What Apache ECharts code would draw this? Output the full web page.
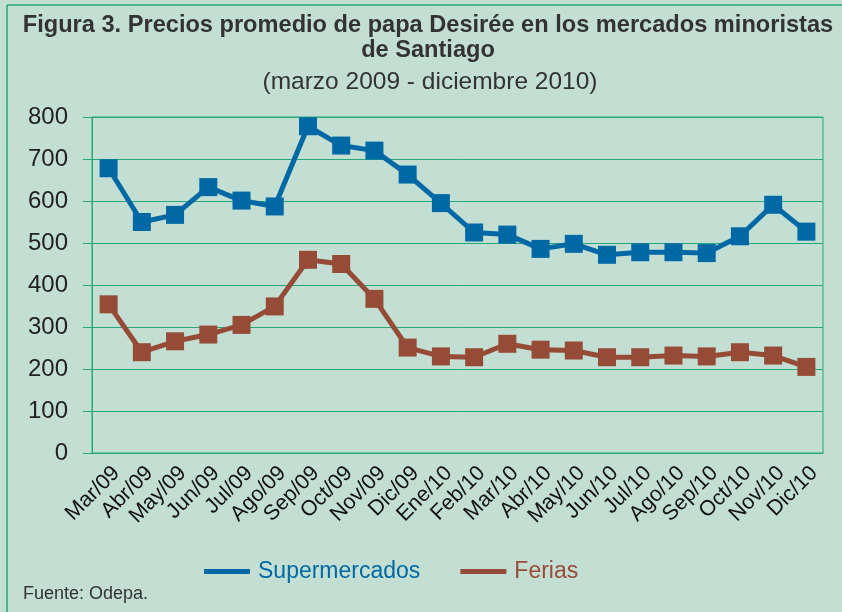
<!DOCTYPE html>
<html>
<head>
<meta charset="utf-8">
<script src="https://cdn.jsdelivr.net/npm/echarts@6/dist/echarts.min.js"></script>
<style>
html,body{margin:0;padding:0;background:#c3dfd3;}
#c{width:842px;height:612px;}
</style>
</head>
<body>
<div id="c"></div>
<script>
const categories = ['Mar/09','Abr/09','May/09','Jun/09','Jul/09','Ago/09','Sep/09','Oct/09','Nov/09','Dic/09','Ene/10','Feb/10','Mar/10','Abr/10','May/10','Jun/10','Jul/10','Ago/10','Sep/10','Oct/10','Nov/10','Dic/10'];
const supermercados = [678,550,567,633,601,587,778,732,720,663,595,525,520,486,498,472,478,478,476,516,591,527];
const ferias = [354,240,266,282,305,349,460,450,367,251,230,228,260,246,244,228,228,232,230,240,232,205];
const yTicks = [0,100,200,300,400,500,600,700,800];

const green = '#27a878';
const font = 'Liberation Sans, Arial, sans-serif';
const chart = echarts.init(document.getElementById('c'));
chart.setOption({
  backgroundColor: '#c3dfd3',
  animation: false,
  graphic: [
    {type:'line', shape:{x1:7,y1:5,x2:842,y2:5}, style:{stroke:green,lineWidth:1.5}},
    {type:'line', shape:{x1:7,y1:5,x2:7,y2:612}, style:{stroke:green,lineWidth:1.5}},
    {type:'text', left:23, top:585, style:{text:'Fuente: Odepa.', font:'18px ' + font, fill:'#333'}}
  ],
  title: [
    {text:'Figura 3. Precios promedio de papa Desirée en los mercados minoristas\nde Santiago', left:423, textAlign:'center', top:8,
     textStyle:{fontFamily:font, fontWeight:'bold', fontSize:23.6, color:'#333', lineHeight:25}},
    {text:'(marzo 2009 - diciembre 2010)', left:425, textAlign:'center', top:65,
     textStyle:{fontFamily:font, fontWeight:'normal', fontSize:24.5, color:'#333'}}
  ],
  legend: {
    top: 555, left: 199,
    itemWidth: 46, itemHeight: 5, itemGap: 40,
    icon: 'rect',
    textStyle: {fontFamily:font, fontSize:23, padding:[0,0,0,3]},
    data: [
      {name:'Supermercados', textStyle:{color:'#0069a5'}},
      {name:'Ferias', textStyle:{color:'#964b37'}}
    ]
  },
  grid: {left:92, right:19, top:117, bottom:159, show:true, borderColor:green, borderWidth:1},
  xAxis: {
    type:'category', data:categories, boundaryGap:true,
    axisLine:{show:true, lineStyle:{color:green, width:1}},
    axisTick:{show:false},
    axisLabel:{rotate:45, fontFamily:font, fontSize:21.5, color:'#111', margin:9, interval:0,
      align:'right', verticalAlign:'top'}
  },
  yAxis: {
    type:'value', min:0, max:800, interval:100,
    axisLine:{show:true, lineStyle:{color:green, width:1}},
    axisTick:{show:true, length:9, lineStyle:{color:green}},
    splitLine:{show:true, lineStyle:{color:green, width:1}},
    axisLabel:{fontFamily:font, fontSize:24, color:'#222', margin:24,
      formatter: function(v){ return yTicks.indexOf(v) >= 0 ? String(v) : ''; }}
  },
  series: [
    {name:'Supermercados', type:'line', data:supermercados, symbol:'rect', symbolSize:18,
     lineStyle:{color:'#0069a5', width:5}, itemStyle:{color:'#0069a5'}},
    {name:'Ferias', type:'line', data:ferias, symbol:'rect', symbolSize:18,
     lineStyle:{color:'#964b37', width:5}, itemStyle:{color:'#964b37'}}
  ]
});
</script>
</body>
</html>
